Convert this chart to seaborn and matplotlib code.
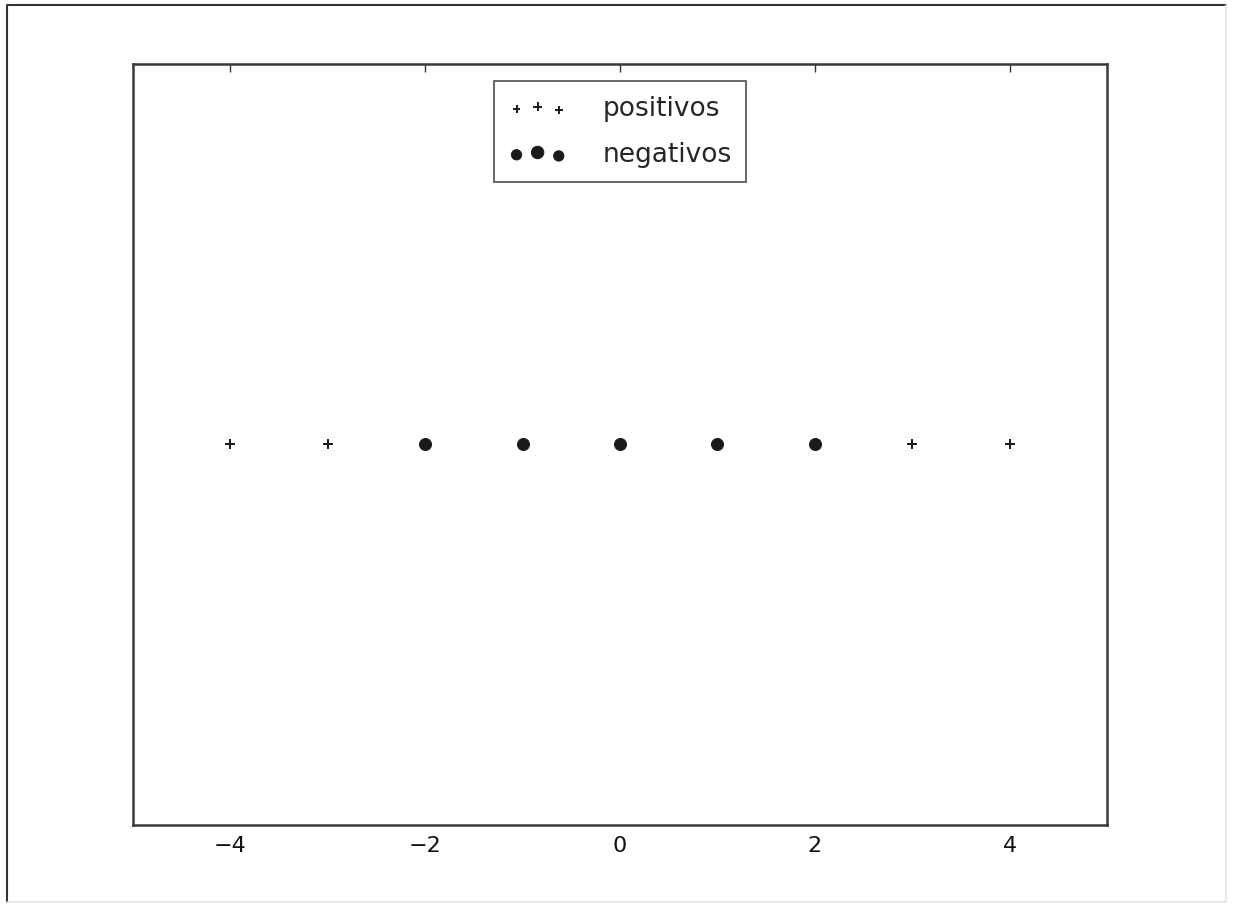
import numpy as np
import pandas as pd
import matplotlib
matplotlib.use("Agg")
import matplotlib.pyplot as plt
from matplotlib.legend_handler import HandlerPathCollection
from matplotlib.lines import Line2D
import seaborn as sns

# data: points on the line y=0, split by sign
x_pos = [-4, -3, 3, 4]
x_neg = [-2, -1, 0, 1, 2]
labels = ["positivos", "negativos"]

df = pd.DataFrame({
    "x": x_pos + x_neg,
    "y": [0] * (len(x_pos) + len(x_neg)),
    "grupo": [labels[0]] * len(x_pos) + [labels[1]] * len(x_neg),
})

sns.set_style("white")
plt.rcParams['font.family'] = ['DejaVu Sans']

fig = plt.figure(figsize=(12.33, 9.05), dpi=100)
ax = fig.add_axes([0.1079, 0.0884, 0.790, 0.8409])

pos = df[df.grupo == labels[0]]
neg = df[df.grupo == labels[1]]
sns.scatterplot(data=pos, x="x", y="y", marker="+", s=55, color="#1a1a1a",
                linewidth=1.4, ax=ax, legend=False, label=labels[0])
sns.scatterplot(data=neg, x="x", y="y", marker="o", s=75, color="#1a1a1a",
                edgecolor="#1a1a1a", ax=ax, legend=False, label=labels[1])

ax.set_xlim(-5, 5)
ax.set_ylim(-1, 1)
ax.set_xticks([-4, -2, 0, 2, 4])
ax.set_yticks([])
ax.set_xlabel("")
ax.set_ylabel("")
ax.tick_params(axis="x", direction="in", length=6, width=1, colors="#333333",
               labelsize=16, labelcolor="#111111", top=True, pad=8)
for sp in ax.spines.values():
    sp.set_visible(True)
    sp.set_linewidth(1.8)
    sp.set_color("#3a3a3a")

hm = {c: HandlerPathCollection(sizes=[30, 45, 30] if i == 0 else [55, 80, 55])
      for i, c in enumerate(ax.collections)}
leg = ax.legend(loc="upper center", scatterpoints=3, scatteryoffsets=[0.375, 0.5, 0.3125],
                fontsize=19, frameon=True, fancybox=False, edgecolor="#333333",
                handlelength=2.2, handletextpad=1.35, borderpad=0.56, labelspacing=0.75,
                borderaxespad=0.65, handler_map=hm)
leg.get_frame().set_linewidth(1.3)

# outer figure border: dark on left/top, faint on right/bottom
fig.add_artist(Line2D([0.006, 0.006, 0.994], [0.003, 0.994, 0.994],
                      transform=fig.transFigure, color="#333333", linewidth=1.5))
fig.add_artist(Line2D([0.006, 0.994, 0.994], [0.003, 0.003, 0.994],
                      transform=fig.transFigure, color="#e4e4e4", linewidth=1.2))

fig.savefig("out.png", dpi=100)
